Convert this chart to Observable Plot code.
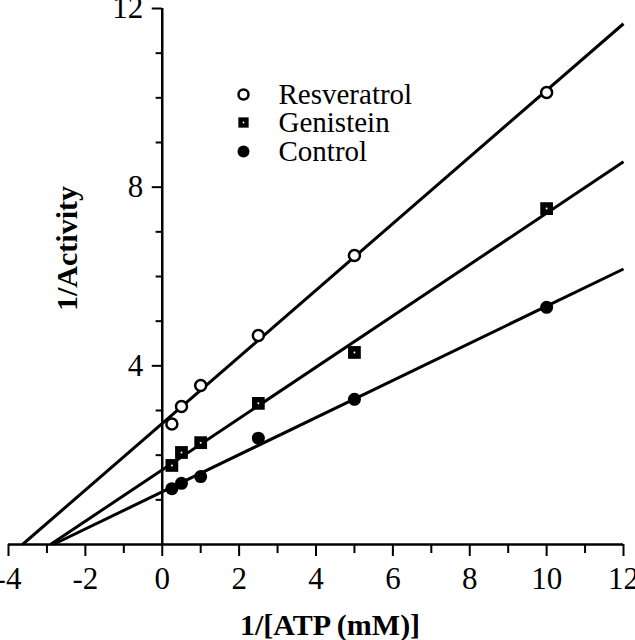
<!DOCTYPE html>
<html><head><meta charset="utf-8">
<script src="https://cdn.jsdelivr.net/npm/d3@7"></script>
<script src="https://cdn.jsdelivr.net/npm/@observablehq/plot@0.6"></script>
<style>body{margin:0;background:#fff}#chart{width:635px;height:640px}</style>
</head><body><div id="chart"></div>
<script>
const series = ["Resveratrol", "Genistein", "Control"];
const atpInv = [0.25, 0.5, 1, 2.5, 5, 10];
const resveratrol = [2.70, 3.09, 3.56, 4.68, 6.47, 10.12];
const genistein = [1.77, 2.06, 2.28, 3.16, 4.30, 7.52];
const control = [1.25, 1.37, 1.52, 2.38, 3.25, 5.31];
const xTickLabels = [-4, -2, 0, 2, 4, 6, 8, 10, 12];
const xMinorTicks = [-3, -1, 1, 3, 5, 7, 9, 11];
const yTickLabels = [4, 8, 12];
const yMinorTicks = [1, 2, 3, 5, 6, 7, 9, 10, 11];
const xLabel = "1/[ATP (mM)]";
const yLabel = "1/Activity";

const values = {Resveratrol: resveratrol, Genistein: genistein, Control: control};
const rows = series.flatMap(s => atpInv.map((x, i) => ({series: s, x, y: values[s][i]})));

// least-squares fit per series, drawn from the x-intercept to the right edge
const fits = series.map(s => {
  const ys = values[s];
  const mx = d3.mean(atpInv), my = d3.mean(ys);
  const sxy = d3.sum(atpInv, (x, i) => (x - mx) * (ys[i] - my));
  const sxx = d3.sum(atpInv, x => (x - mx) ** 2);
  const m = sxy / sxx, b = my - m * mx;
  return {series: s, x1: -b / m, y1: 0, x2: 12, y2: b + m * 12};
});

const FONT = '"Liberation Serif", "Times New Roman", serif';
const legendRowDy = [86, 114, 143];
// y-axis tick lengths, in x units (the y axis sits at x = 0)
const majorTickLen = 0.26, minorTickLen = 0.16;

const legendMarks = [
  Plot.dot([series[0]], {frameAnchor: "top-left", dx: 235, dy: legendRowDy[0], r: 5, stroke: "black", fill: "white", strokeWidth: 2.5}),
  Plot.dot([series[1]], {frameAnchor: "top-left", dx: 235, dy: legendRowDy[1], symbol: "square", r: 5.8, fill: "black"}),
  Plot.dot([series[1]], {frameAnchor: "top-left", dx: 235, dy: legendRowDy[1], r: 0.9, fill: "white"}),
  Plot.dot([series[2]], {frameAnchor: "top-left", dx: 235, dy: legendRowDy[2], r: 6, fill: "black"}),
  ...series.map((s, i) => Plot.text([s], {frameAnchor: "top-left", dx: 270, dy: legendRowDy[i], text: d => d, textAnchor: "start", lineAnchor: "middle", fontSize: 29, fill: "black"}))
];

const chart = Plot.plot({
  width: 635, height: 640,
  marginLeft: 8, marginRight: 12, marginTop: 8, marginBottom: 96,
  x: {domain: [-4, 12]},
  y: {domain: [0, 12], axis: null},
  style: {fontFamily: FONT, background: "white", color: "black"},
  marks: [
    Plot.ruleY([0], {strokeWidth: 2.5}),
    Plot.ruleX([0], {y1: 0, y2: 12, strokeWidth: 2.5}),
    Plot.axisX({ticks: xTickLabels, tickSize: 12, tickPadding: 10, fontSize: 31, tickFormat: d => String(d), label: null, strokeWidth: 2}),
    Plot.axisX({ticks: xMinorTicks, tickSize: 9, tickFormat: () => "", label: null, strokeWidth: 2}),
    Plot.ruleY(yTickLabels, {y: d => d, x1: () => 0, x2: () => -majorTickLen, strokeWidth: 2}),
    Plot.ruleY(yMinorTicks, {y: d => d, x1: () => 0, x2: () => -minorTickLen, strokeWidth: 2}),
    Plot.text(yTickLabels, {x: 0, y: d => d, dx: -19, text: d => String(d), textAnchor: "end", fontSize: 31, fill: "black"}),
    Plot.link(fits, {x1: "x1", y1: "y1", x2: "x2", y2: "y2", stroke: "black", strokeWidth: 3}),
    Plot.dot(rows.filter(d => d.series === "Resveratrol"), {x: "x", y: "y", r: 5.5, stroke: "black", fill: "white", strokeWidth: 2.5}),
    Plot.dot(rows.filter(d => d.series === "Genistein"), {x: "x", y: "y", symbol: "square", r: 7.2, fill: "black"}),
    Plot.dot(rows.filter(d => d.series === "Genistein"), {x: "x", y: "y", r: 1, fill: "white"}),
    Plot.dot(rows.filter(d => d.series === "Control"), {x: "x", y: "y", r: 6.5, fill: "black"}),
    ...legendMarks,
    Plot.text([xLabel], {frameAnchor: "bottom", dx: 14, dy: 81, text: d => d, lineAnchor: "middle", textAnchor: "middle", fontSize: 30, fontWeight: "bold", fill: "black"}),
    Plot.text([yLabel], {frameAnchor: "left", rotate: -90, dx: 59, dy: -28, text: d => d, textAnchor: "middle", lineAnchor: "middle", fontSize: 30, fontWeight: "bold", fill: "black"})
  ]
});
document.getElementById("chart").append(chart);
</script>
</body></html>
